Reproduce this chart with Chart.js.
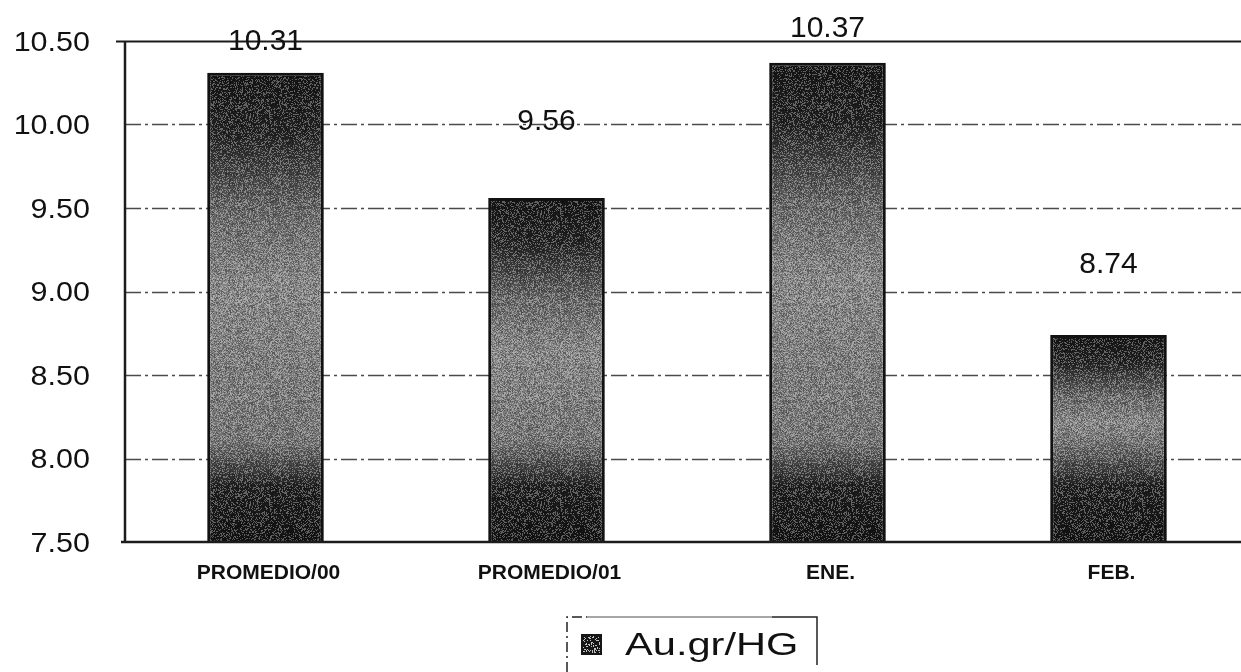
<!DOCTYPE html>
<html>
<head>
<meta charset="utf-8">
<title>Ley de oro Au.gr/HG</title>
<script src="https://cdn.jsdelivr.net/npm/chart.js@4"></script>
<style>
  html, body { margin: 0; padding: 0; background: #ffffff; overflow: hidden; }
  #wrap { position: relative; width: 1249px; height: 672px; }
</style>
</head>
<body>
<div id="wrap"><canvas id="grafico"></canvas></div>
<script>
// Ley promedio de oro por periodo
const categories = ['PROMEDIO/00', 'PROMEDIO/01', 'ENE.', 'FEB.'];
const leyAu = [10.31, 9.56, 10.37, 8.74];
const seriesName = 'Au.gr/HG';
const yTickValues = [7.5, 8.0, 8.5, 9.0, 9.5, 10.0, 10.5];
const yTickLabels = ['7.50', '8.00', '8.50', '9.00', '9.50', '10.00', '10.50'];

// Estilo: altura de cada rótulo sobre su barra (px)
const labelRise = [33, 79, 36, 73];
const FONT = '"Liberation Sans", Arial, Helvetica, sans-serif';

// Textura granulada determinista para el relleno de las barras
function makeGrain(size, light, dark, hiCut, loCut) {
  const c = document.createElement('canvas');
  c.width = size; c.height = size;
  const g = c.getContext('2d');
  const img = g.createImageData(size, size);
  for (let y = 0; y < size; y++) {
    for (let x = 0; x < size; x++) {
      const s = Math.sin(x * 12.9898 + y * 78.233) * 43758.5453;
      const h = s - Math.floor(s);
      const i = (y * size + x) * 4;
      if (h > hiCut) { img.data[i] = 255; img.data[i+1] = 255; img.data[i+2] = 255; img.data[i+3] = light; }
      else if (h < loCut) { img.data[i+3] = dark; }
    }
  }
  g.putImageData(img, 0, 0);
  return c;
}
const grainTile = makeGrain(97, 80, 70, 0.72, 0.24);
const swatchTile = makeGrain(23, 190, 0, 0.78, 0);

// Degradado: franja oscura arriba, gris al centro y base oscura de altura casi fija
function barGradient(ctx, top, bottom) {
  const h = Math.max(bottom - top, 1);
  const f = (px) => Math.min(Math.max(px / h, 0), 1);
  const gr = ctx.createLinearGradient(0, top, 0, bottom);
  gr.addColorStop(0.00, '#151515');
  gr.addColorStop(f(h * 0.13), '#222222');
  gr.addColorStop(f(h * 0.30), '#666666');
  gr.addColorStop(Math.min(f(h * 0.45), f(h - 120)), '#858585');
  gr.addColorStop(f(h - 100), '#727272');
  gr.addColorStop(f(h - 75), '#454545');
  gr.addColorStop(f(h - 55), '#1e1e1e');
  gr.addColorStop(1.00, '#131313');
  return gr;
}

const decor = {
  id: 'decor',
  beforeDatasetsDraw(chart) {
    const { ctx, chartArea: a, scales: { y } } = chart;
    ctx.save();
    y.ticks.forEach(t => {
      const py = Math.round(y.getPixelForValue(t.value)) + 0.5;
      if (t.value === y.max) {
        ctx.setLineDash([]);
        ctx.strokeStyle = '#1a1a1a';
        ctx.lineWidth = 2;
        ctx.beginPath(); ctx.moveTo(a.left - 9, py); ctx.lineTo(a.right, py); ctx.stroke();
      } else if (t.value !== y.min) {
        ctx.setLineDash([16, 4, 3, 4]);
        ctx.strokeStyle = '#4a4a4a';
        ctx.lineWidth = 1.5;
        ctx.beginPath(); ctx.moveTo(a.left, py); ctx.lineTo(a.right, py); ctx.stroke();
      }
    });
    ctx.restore();
  },
  afterDatasetsDraw(chart) {
    const { ctx, chartArea: a, scales: { y } } = chart;
    const meta = chart.getDatasetMeta(0);
    const yb = Math.round(y.getPixelForValue(y.min));
    const yt = Math.round(y.getPixelForValue(y.max));
    ctx.save();
    const pat = ctx.createPattern(grainTile, 'repeat');
    meta.data.forEach(bar => {
      const p = bar.getProps(['x', 'y', 'width'], true);
      ctx.save();
      ctx.beginPath();
      ctx.rect(p.x - p.width / 2 + 3, p.y + 3, p.width - 6, yb - p.y - 3);
      ctx.clip();
      ctx.fillStyle = pat;
      ctx.fillRect(p.x - p.width / 2, p.y, p.width, yb - p.y);
      ctx.restore();
    });
    // ejes
    ctx.setLineDash([]);
    ctx.strokeStyle = '#1c1c1c';
    ctx.lineWidth = 2.5;
    ctx.beginPath(); ctx.moveTo(a.left, yt); ctx.lineTo(a.left, yb); ctx.stroke();
    ctx.beginPath(); ctx.moveTo(a.left - 4, yb); ctx.lineTo(a.right, yb); ctx.stroke();
    ctx.restore();
  },
  afterDraw(chart) {
    const { ctx, chartArea: a, scales: { x, y } } = chart;
    ctx.save();
    ctx.fillStyle = '#111111';

    // rótulos del eje Y
    ctx.font = '27px ' + FONT;
    ctx.textAlign = 'right';
    ctx.textBaseline = 'alphabetic';
    y.ticks.forEach(t => {
      const py = y.getPixelForValue(t.value);
      ctx.save();
      ctx.translate(a.left - 35, py + 9.7);
      ctx.scale(1.13, 1);
      ctx.fillText(t.label, 0, 0);
      ctx.restore();
    });

    // rótulos de categoría
    ctx.font = 'bold 21px ' + FONT;
    ctx.textAlign = 'center';
    x.ticks.forEach((t, i) => {
      ctx.fillText(x.getLabelForValue(t.value), x.getPixelForTick(i) + 3, a.bottom + 37);
    });

    // valores sobre las barras
    ctx.font = '30px ' + FONT;
    const meta = chart.getDatasetMeta(0);
    meta.data.forEach((bar, i) => {
      const p = bar.getProps(['x', 'y'], true);
      const v = chart.data.datasets[0].data[i];
      ctx.fillText(v.toFixed(2), p.x, p.y - labelRise[i] + 10.7);
    });

    // leyenda
    const cx = (a.left + a.right) / 2;
    const L = cx - 120, R = cx + 130, T = a.bottom + 75;
    ctx.strokeStyle = '#222222';
    ctx.lineWidth = 1.5;
    ctx.setLineDash([10, 4, 2, 4]);
    ctx.beginPath(); ctx.moveTo(L, chart.height); ctx.lineTo(L, T); ctx.lineTo(L + 20, T); ctx.stroke();
    ctx.setLineDash([]);
    ctx.strokeStyle = '#8a8a8a';
    ctx.beginPath(); ctx.moveTo(L + 20, T); ctx.lineTo(R - 45, T); ctx.stroke();
    ctx.strokeStyle = '#222222';
    ctx.beginPath(); ctx.moveTo(R - 45, T); ctx.lineTo(R, T); ctx.lineTo(R, T + 48); ctx.stroke();
    const sx = L + 14, sy = T + 17, ss = 21;
    ctx.fillStyle = '#161616';
    ctx.fillRect(sx, sy, ss, ss);
    ctx.save();
    ctx.beginPath(); ctx.rect(sx + 2, sy + 2, ss - 4, ss - 4); ctx.clip();
    ctx.fillStyle = ctx.createPattern(swatchTile, 'repeat');
    ctx.fillRect(sx, sy, ss, ss);
    ctx.restore();
    ctx.fillStyle = '#111111';
    ctx.font = '32px ' + FONT;
    ctx.textAlign = 'left';
    ctx.save();
    ctx.translate(L + 58, T + 38);
    ctx.scale(1.3, 1);
    ctx.fillText(chart.data.datasets[0].label, 0, 0);
    ctx.restore();

    ctx.restore();
  }
};

new Chart(document.getElementById('grafico'), {
  type: 'bar',
  data: {
    labels: categories,
    datasets: [{
      label: seriesName,
      data: leyAu,
      backgroundColor: (c) => {
        const chart = c.chart;
        const ys = chart.scales && chart.scales.y;
        if (!chart.chartArea || !ys || c.raw === undefined) return '#555555';
        return barGradient(chart.ctx, ys.getPixelForValue(c.raw), ys.getPixelForValue(ys.min));
      },
      borderColor: '#121212',
      borderWidth: 3,
      borderSkipped: false,
      barPercentage: 0.415,
      categoryPercentage: 1.0
    }]
  },
  options: {
    responsive: true,
    maintainAspectRatio: false,
    animation: false,
    layout: { padding: { top: 41, right: 0, left: 0, bottom: 0 } },
    plugins: { legend: { display: false }, tooltip: { enabled: false } },
    scales: {
      x: {
        grid: { display: false },
        border: { display: false },
        ticks: { display: false },
        afterFit(s) { s.height = 130; }
      },
      y: {
        min: 7.5,
        max: 10.5,
        grid: { display: false },
        border: { display: false },
        afterBuildTicks(s) { s.ticks = yTickValues.map(v => ({ value: v })); },
        ticks: {
          display: false,
          callback: (v) => yTickLabels[yTickValues.indexOf(v)]
        },
        afterFit(s) { s.width = 125; }
      }
    }
  },
  plugins: [decor]
});
</script>
</body>
</html>
